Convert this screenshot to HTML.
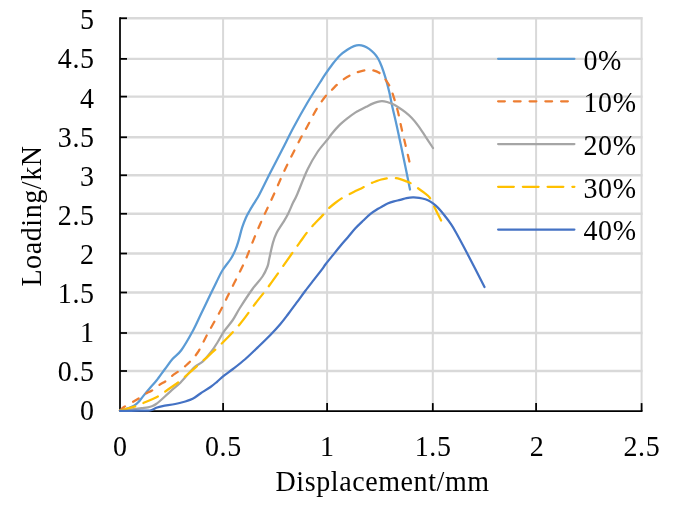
<!DOCTYPE html>
<html lang="en"><head><meta charset="utf-8"><title>Loading vs Displacement</title>
<style>
html,body{margin:0;padding:0;background:#fff;overflow:hidden}
svg{display:block}
text{font-family:"Liberation Serif","Times New Roman",serif;font-size:28px;fill:#000;letter-spacing:0.6px}
.g{stroke:#D9D9D9;stroke-width:2;fill:none}
.a{stroke:#000;stroke-width:1.75;fill:none}
.s{fill:none;stroke-width:2.25;stroke-linecap:round;stroke-linejoin:round}
</style></head><body>
<svg width="680" height="508" viewBox="0 0 680 508">
<rect width="680" height="508" fill="#fff"/>
<g class="g">
<line stroke-width="2.3" x1="120.00" y1="18.25" x2="642.50" y2="18.25"/>
<line stroke-width="2.3" x1="120.00" y1="58.90" x2="642.50" y2="58.90"/>
<line stroke-width="2.3" x1="120.00" y1="96.60" x2="642.50" y2="96.60"/>
<line stroke-width="2.3" x1="120.00" y1="137.25" x2="642.50" y2="137.25"/>
<line stroke-width="2.3" x1="120.00" y1="175.25" x2="642.50" y2="175.25"/>
<line stroke-width="2.3" x1="120.00" y1="213.75" x2="642.50" y2="213.75"/>
<line stroke-width="2.3" x1="120.00" y1="253.50" x2="642.50" y2="253.50"/>
<line stroke-width="2.3" x1="120.00" y1="292.50" x2="642.50" y2="292.50"/>
<line stroke-width="2.3" x1="120.00" y1="333.00" x2="642.50" y2="333.00"/>
<line stroke-width="2.3" x1="120.00" y1="371.00" x2="642.50" y2="371.00"/>
<line x1="223.10" y1="17.35" x2="223.10" y2="411.10"/>
<line x1="327.10" y1="17.35" x2="327.10" y2="411.10"/>
<line x1="432.80" y1="17.35" x2="432.80" y2="411.10"/>
<line x1="536.10" y1="17.35" x2="536.10" y2="411.10"/>
<line x1="641.60" y1="17.35" x2="641.60" y2="411.10"/>
</g>
<g class="a">
<line x1="120.00" y1="17.35" x2="120.00" y2="412.00"/>
<line x1="119.10" y1="411.10" x2="642.50" y2="411.10"/>
<line x1="120.00" y1="18.25" x2="127.00" y2="18.25"/>
<line x1="120.00" y1="58.90" x2="127.00" y2="58.90"/>
<line x1="120.00" y1="96.60" x2="127.00" y2="96.60"/>
<line x1="120.00" y1="137.25" x2="127.00" y2="137.25"/>
<line x1="120.00" y1="175.25" x2="127.00" y2="175.25"/>
<line x1="120.00" y1="213.75" x2="127.00" y2="213.75"/>
<line x1="120.00" y1="253.50" x2="127.00" y2="253.50"/>
<line x1="120.00" y1="292.50" x2="127.00" y2="292.50"/>
<line x1="120.00" y1="333.00" x2="127.00" y2="333.00"/>
<line x1="120.00" y1="371.00" x2="127.00" y2="371.00"/>
<line x1="223.10" y1="411.10" x2="223.10" y2="403.10"/>
<line x1="327.10" y1="411.10" x2="327.10" y2="403.10"/>
<line x1="432.80" y1="411.10" x2="432.80" y2="403.10"/>
<line x1="536.10" y1="411.10" x2="536.10" y2="403.10"/>
<line x1="641.60" y1="411.10" x2="641.60" y2="403.10"/>
</g>
<path class="s" stroke="#5B9BD5" d="M120.00,410.60 C121.33,410.22 125.67,409.10 128.00,408.30 C130.33,407.50 132.25,406.85 134.00,405.80 C135.75,404.75 137.03,403.53 138.50,402.00 C139.97,400.47 140.82,399.02 142.80,396.60 C144.78,394.18 148.12,390.18 150.40,387.50 C152.68,384.82 154.07,383.58 156.50,380.50 C158.93,377.42 162.33,372.58 165.00,369.00 C167.67,365.42 169.79,362.12 172.50,359.00 C175.21,355.88 177.92,354.83 181.25,350.25 C184.58,345.67 189.21,337.54 192.50,331.50 C195.79,325.46 198.08,320.04 201.00,314.00 C203.92,307.96 207.42,300.58 210.00,295.25 C212.58,289.92 214.42,286.17 216.50,282.00 C218.58,277.83 220.13,274.08 222.50,270.25 C224.87,266.42 228.58,262.31 230.70,259.00 C232.82,255.69 233.93,253.30 235.20,250.40 C236.47,247.50 237.15,245.38 238.30,241.60 C239.45,237.82 240.83,231.68 242.10,227.70 C243.37,223.72 244.65,220.53 245.90,217.70 C247.15,214.87 248.03,213.43 249.60,210.70 C251.17,207.97 253.72,203.92 255.30,201.30 C256.88,198.68 256.65,199.68 259.10,195.00 C261.55,190.32 266.18,180.75 270.00,173.25 C273.82,165.75 278.04,157.71 282.00,150.00 C285.96,142.29 289.50,134.92 293.75,127.00 C298.00,119.08 303.12,109.92 307.50,102.50 C311.88,95.08 317.08,87.13 320.00,82.50 C322.92,77.87 322.90,77.78 325.00,74.70 C327.10,71.62 330.08,67.25 332.60,64.00 C335.12,60.75 337.58,57.62 340.10,55.20 C342.62,52.78 345.38,51.02 347.70,49.50 C350.02,47.98 352.12,46.83 354.00,46.10 C355.88,45.37 357.33,45.10 359.00,45.10 C360.67,45.10 362.32,45.47 364.00,46.10 C365.68,46.73 367.42,47.70 369.10,48.90 C370.78,50.10 372.63,51.73 374.10,53.30 C375.57,54.87 376.63,56.10 377.90,58.30 C379.17,60.50 380.43,63.23 381.70,66.50 C382.97,69.77 384.25,73.70 385.50,77.90 C386.75,82.10 388.03,86.77 389.20,91.70 C390.37,96.63 391.20,101.62 392.50,107.50 C393.80,113.38 395.08,118.25 397.00,127.00 C398.92,135.75 401.83,149.58 404.00,160.00 C406.17,170.42 409.00,184.58 410.00,189.50"/>
<path class="s" stroke="#ED7D31" stroke-dasharray="6.75 9" d="M120.00,410.60 C120.67,410.00 121.88,408.43 124.00,407.00 C126.12,405.57 130.40,403.33 132.70,402.00 C135.00,400.67 135.48,400.47 137.80,399.00 C140.12,397.53 144.30,394.58 146.60,393.20 C148.90,391.82 149.50,392.07 151.60,390.70 C153.70,389.33 156.88,386.57 159.20,385.00 C161.52,383.43 163.49,382.72 165.50,381.30 C167.51,379.88 167.79,379.18 171.25,376.50 C174.71,373.82 181.88,369.21 186.25,365.25 C190.62,361.29 193.96,357.96 197.50,352.75 C201.04,347.54 203.75,340.88 207.50,334.00 C211.25,327.12 216.25,318.58 220.00,311.50 C223.75,304.42 226.67,298.17 230.00,291.50 C233.33,284.83 237.35,276.92 240.00,271.50 C242.65,266.08 243.77,263.98 245.90,259.00 C248.03,254.02 250.60,247.02 252.80,241.60 C255.00,236.18 257.00,231.33 259.10,226.50 C261.20,221.67 262.98,217.85 265.40,212.60 C267.82,207.35 270.33,202.18 273.60,195.00 C276.87,187.82 280.60,178.75 285.00,169.50 C289.40,160.25 296.33,146.58 300.00,139.50 C303.67,132.42 304.08,132.33 307.00,127.00 C309.92,121.67 314.08,113.04 317.50,107.50 C320.92,101.96 325.10,96.70 327.50,93.75 C329.90,90.80 330.22,91.39 331.90,89.80 C333.58,88.21 335.60,85.98 337.60,84.20 C339.60,82.42 341.80,80.58 343.90,79.10 C346.00,77.62 347.90,76.45 350.20,75.30 C352.50,74.15 355.18,73.03 357.70,72.20 C360.22,71.37 362.77,70.62 365.30,70.30 C367.83,69.98 370.58,69.88 372.90,70.30 C375.22,70.72 377.32,71.53 379.20,72.80 C381.08,74.07 382.53,75.80 384.20,77.90 C385.87,80.00 387.83,82.88 389.20,85.40 C390.57,87.92 391.02,88.90 392.40,93.00 C393.78,97.10 396.02,104.33 397.50,110.00 C398.98,115.67 399.92,121.17 401.25,127.00 C402.58,132.83 404.12,139.17 405.50,145.00 C406.88,150.83 408.83,159.17 409.50,162.00"/>
<path class="s" stroke="#A5A5A5" d="M120.00,410.60 C122.00,410.38 128.40,409.70 132.00,409.30 C135.60,408.90 138.93,408.52 141.60,408.20 C144.27,407.88 146.18,407.77 148.00,407.40 C149.82,407.03 151.08,406.62 152.50,406.00 C153.92,405.38 155.17,404.62 156.50,403.70 C157.83,402.78 158.17,402.57 160.50,400.50 C162.83,398.43 167.15,394.30 170.50,391.30 C173.85,388.30 176.72,386.43 180.60,382.50 C184.47,378.57 190.08,371.23 193.75,367.75 C197.42,364.27 199.66,364.31 202.60,361.60 C205.54,358.89 208.88,354.77 211.40,351.50 C213.92,348.23 215.60,345.37 217.70,342.00 C219.80,338.63 221.48,334.97 224.00,331.30 C226.52,327.63 230.13,323.93 232.80,320.00 C235.47,316.07 236.72,312.92 240.00,307.75 C243.28,302.58 248.75,294.21 252.50,289.00 C256.25,283.79 260.00,280.25 262.50,276.50 C265.00,272.75 266.38,269.42 267.50,266.50 C268.62,263.58 268.30,262.93 269.20,259.00 C270.10,255.07 271.65,247.27 272.90,242.90 C274.15,238.53 275.02,236.17 276.70,232.80 C278.38,229.43 281.12,225.85 283.00,222.70 C284.88,219.55 286.32,217.25 288.00,213.90 C289.68,210.55 291.62,205.75 293.10,202.60 C294.58,199.45 294.50,200.52 296.90,195.00 C299.30,189.48 304.07,176.67 307.50,169.50 C310.93,162.33 314.17,157.00 317.50,152.00 C320.83,147.00 325.15,142.50 327.50,139.50 C329.85,136.50 329.65,136.35 331.60,134.00 C333.55,131.65 336.47,128.08 339.20,125.40 C341.93,122.72 345.27,120.07 348.00,117.90 C350.73,115.73 353.60,113.72 355.60,112.40 C357.60,111.08 358.22,110.93 360.00,110.00 C361.78,109.07 364.20,107.87 366.30,106.80 C368.40,105.73 370.72,104.43 372.60,103.60 C374.48,102.77 376.03,102.22 377.60,101.80 C379.17,101.38 380.42,101.07 382.00,101.10 C383.58,101.13 385.32,101.50 387.10,102.00 C388.88,102.50 390.72,103.15 392.70,104.10 C394.68,105.05 396.90,106.37 399.00,107.70 C401.10,109.03 403.20,110.43 405.30,112.10 C407.40,113.77 409.50,115.50 411.60,117.70 C413.70,119.90 415.58,122.15 417.90,125.30 C420.22,128.45 422.98,132.82 425.50,136.60 C428.02,140.38 431.75,146.10 433.00,148.00"/>
<path class="s" stroke="#FFC000" stroke-dasharray="15.75 9" d="M120.00,410.60 C122.55,409.90 131.50,407.62 135.30,406.40 C139.10,405.18 139.02,404.97 142.80,403.30 C146.58,401.63 154.22,398.40 158.00,396.40 C161.78,394.40 162.17,393.62 165.50,391.30 C168.83,388.98 174.96,384.76 178.00,382.50 C181.04,380.24 179.25,381.67 183.75,377.75 C188.25,373.83 198.54,364.83 205.00,359.00 C211.46,353.17 216.67,348.58 222.50,342.75 C228.33,336.92 234.58,330.46 240.00,324.00 C245.42,317.54 250.00,310.58 255.00,304.00 C260.00,297.42 263.96,292.75 270.00,284.50 C276.04,276.25 286.25,261.55 291.25,254.50 C296.25,247.45 297.49,245.72 300.00,242.20 C302.51,238.68 304.30,236.02 306.30,233.40 C308.30,230.78 309.17,229.63 312.00,226.50 C314.83,223.37 320.58,217.55 323.30,214.60 C326.02,211.65 326.43,210.65 328.30,208.80 C330.17,206.95 332.28,205.23 334.50,203.50 C336.72,201.77 339.15,199.95 341.60,198.40 C344.05,196.85 346.80,195.47 349.20,194.20 C351.60,192.93 353.70,191.93 356.00,190.80 C358.30,189.67 360.47,188.67 363.00,187.40 C365.53,186.13 369.03,184.22 371.20,183.20 C373.37,182.18 374.32,181.92 376.00,181.30 C377.68,180.68 379.47,180.00 381.30,179.50 C383.13,179.00 384.80,178.55 387.00,178.30 C389.20,178.05 392.30,177.87 394.50,178.00 C396.70,178.13 398.20,178.53 400.20,179.10 C402.20,179.67 404.72,180.70 406.50,181.40 C408.28,182.10 409.12,182.25 410.90,183.30 C412.68,184.35 415.00,186.13 417.20,187.70 C419.40,189.27 422.00,191.02 424.10,192.70 C426.20,194.38 428.22,195.70 429.80,197.80 C431.38,199.90 432.35,202.78 433.60,205.30 C434.85,207.82 436.05,210.37 437.30,212.90 C438.55,215.43 440.47,219.23 441.10,220.50"/>
<path class="s" stroke="#4472C4" d="M120.00,410.90 C123.33,410.87 135.00,410.77 140.00,410.70 C145.00,410.63 147.28,410.98 150.00,410.50 C152.72,410.02 154.20,408.53 156.30,407.80 C158.40,407.07 159.45,406.73 162.60,406.10 C165.75,405.47 171.42,404.77 175.20,404.00 C178.98,403.23 182.83,402.18 185.30,401.50 C187.77,400.82 188.42,400.57 190.00,399.90 C191.58,399.23 193.07,398.57 194.80,397.50 C196.53,396.43 197.78,395.25 200.40,393.50 C203.02,391.75 207.73,388.95 210.50,387.00 C213.27,385.05 214.75,383.70 217.00,381.80 C219.25,379.90 221.33,377.73 224.00,375.60 C226.67,373.47 229.43,371.77 233.00,369.00 C236.57,366.23 241.23,362.65 245.40,359.00 C249.57,355.35 253.80,351.15 258.00,347.10 C262.20,343.05 266.90,338.52 270.60,334.70 C274.30,330.88 277.35,327.53 280.20,324.20 C283.05,320.87 284.97,318.28 287.70,314.70 C290.43,311.12 293.65,306.68 296.60,302.70 C299.55,298.72 302.47,294.68 305.40,290.80 C308.33,286.92 311.47,282.93 314.20,279.40 C316.93,275.87 319.87,272.17 321.80,269.60 C323.73,267.03 323.98,266.37 325.80,264.00 C327.62,261.63 330.28,258.40 332.70,255.40 C335.12,252.40 337.77,249.03 340.30,246.00 C342.83,242.97 345.38,240.15 347.90,237.20 C350.42,234.25 352.88,231.03 355.40,228.30 C357.92,225.57 360.48,223.20 363.00,220.80 C365.52,218.40 367.98,215.90 370.50,213.90 C373.02,211.90 376.02,210.12 378.10,208.80 C380.18,207.48 381.42,206.88 383.00,206.00 C384.58,205.12 385.78,204.28 387.60,203.50 C389.42,202.72 391.80,201.90 393.90,201.30 C396.00,200.70 398.10,200.42 400.20,199.90 C402.30,199.38 404.40,198.62 406.50,198.20 C408.60,197.78 410.70,197.47 412.80,197.40 C414.90,197.33 417.00,197.48 419.10,197.80 C421.20,198.12 423.52,198.67 425.40,199.30 C427.28,199.93 428.72,200.60 430.40,201.60 C432.08,202.60 433.82,203.83 435.50,205.30 C437.18,206.77 438.83,208.50 440.50,210.40 C442.17,212.30 443.82,214.50 445.50,216.70 C447.18,218.90 448.85,220.97 450.60,223.60 C452.35,226.23 453.27,227.60 456.00,232.50 C458.73,237.40 462.25,243.92 467.00,253.00 C471.75,262.08 481.58,281.33 484.50,287.00"/>
<text transform="translate(94.6,29.30) scale(1,1.085)" text-anchor="end">5</text>
<text transform="translate(94.6,68.40) scale(1,1.085)" text-anchor="end">4.5</text>
<text transform="translate(94.6,107.50) scale(1,1.085)" text-anchor="end">4</text>
<text transform="translate(94.6,146.60) scale(1,1.085)" text-anchor="end">3.5</text>
<text transform="translate(94.6,185.70) scale(1,1.085)" text-anchor="end">3</text>
<text transform="translate(94.6,224.80) scale(1,1.085)" text-anchor="end">2.5</text>
<text transform="translate(94.6,263.90) scale(1,1.085)" text-anchor="end">2</text>
<text transform="translate(94.6,303.00) scale(1,1.085)" text-anchor="end">1.5</text>
<text transform="translate(94.6,342.10) scale(1,1.085)" text-anchor="end">1</text>
<text transform="translate(94.6,381.20) scale(1,1.085)" text-anchor="end">0.5</text>
<text transform="translate(94.6,420.30) scale(1,1.085)" text-anchor="end">0</text>
<text transform="translate(120.30,456.2) scale(1,1.085)" text-anchor="middle">0</text>
<text transform="translate(223.40,456.2) scale(1,1.085)" text-anchor="middle">0.5</text>
<text transform="translate(327.40,456.2) scale(1,1.085)" text-anchor="middle">1</text>
<text transform="translate(433.10,456.2) scale(1,1.085)" text-anchor="middle">1.5</text>
<text transform="translate(537.10,456.2) scale(1,1.085)" text-anchor="middle">2</text>
<text transform="translate(641.90,456.2) scale(1,1.085)" text-anchor="middle">2.5</text>
<text transform="translate(382.6,491.2) scale(1,1.05)" text-anchor="middle">Displacement/mm</text>
<text transform="translate(40.5,216.0) rotate(-90) scale(1,1.05)" text-anchor="middle">Loading/kN</text>
<line class="s" stroke="#5B9BD5" x1="498.1" y1="58.75" x2="574.4" y2="58.75"/>
<text transform="translate(583.5,69.55) scale(1,1.085)">0%</text>
<line class="s" stroke="#ED7D31" stroke-dasharray="6.75 9" x1="498.1" y1="101.30" x2="574.4" y2="101.30"/>
<text transform="translate(583.5,112.10) scale(1,1.085)">10%</text>
<line class="s" stroke="#A5A5A5" x1="498.1" y1="144.00" x2="574.4" y2="144.00"/>
<text transform="translate(583.5,154.80) scale(1,1.085)">20%</text>
<line class="s" stroke="#FFC000" stroke-dasharray="15.75 9" x1="498.1" y1="186.75" x2="574.4" y2="186.75"/>
<text transform="translate(583.5,197.55) scale(1,1.085)">30%</text>
<line class="s" stroke="#4472C4" x1="498.1" y1="229.50" x2="574.4" y2="229.50"/>
<text transform="translate(583.5,240.30) scale(1,1.085)">40%</text>
</svg></body></html>
